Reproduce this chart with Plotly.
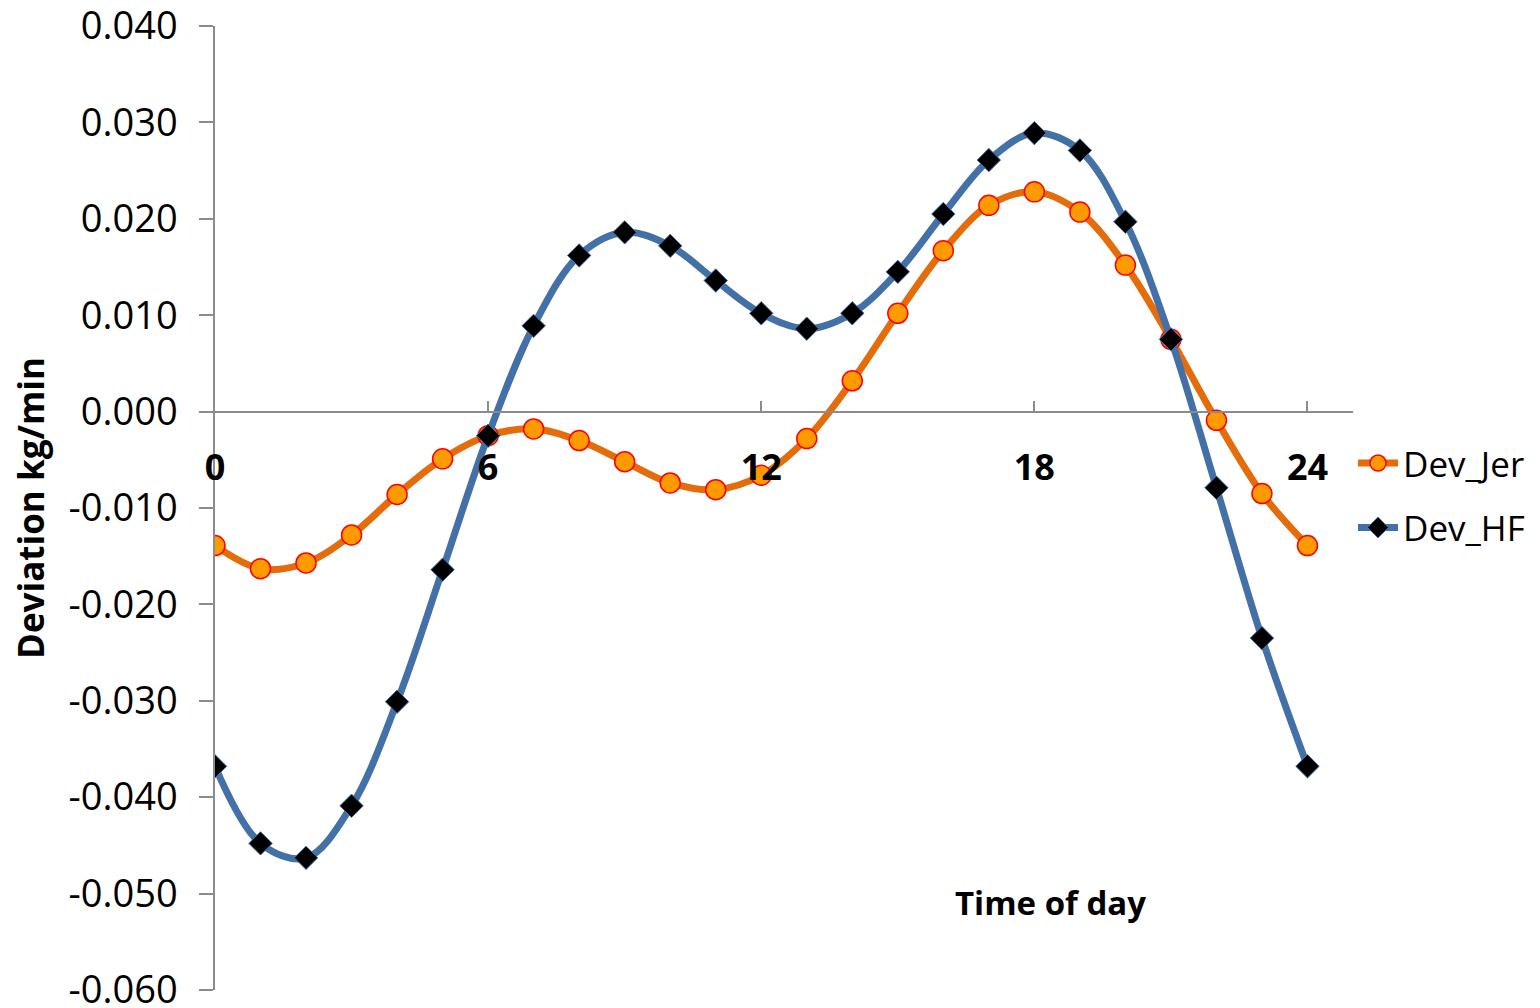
import plotly.graph_objects as go

# Hourly deviation of mass flow (kg/min) over a day
hours = list(range(25))

dev_jer = [-0.0139, -0.0163, -0.0157, -0.0128, -0.0086, -0.0049, -0.0025, -0.0018,
           -0.0030, -0.0052, -0.0074, -0.0081, -0.0066, -0.0028, 0.0032, 0.0102,
           0.0167, 0.0214, 0.0228, 0.0207, 0.0152, 0.0075, -0.0009, -0.0085, -0.0139]

dev_hf = [-0.0368, -0.0448, -0.0463, -0.0409, -0.0301, -0.0164, -0.0025, 0.0089,
          0.0162, 0.0186, 0.0172, 0.0136, 0.0102, 0.0086, 0.0102, 0.0145,
          0.0205, 0.0261, 0.0289, 0.0271, 0.0197, 0.0075, -0.0079, -0.0235, -0.0368]

x_ticks = [0, 6, 12, 18, 24]
y_ticks = [0.04, 0.03, 0.02, 0.01, 0.0, -0.01, -0.02, -0.03, -0.04, -0.05, -0.06]
y_tick_labels = ["0.040", "0.030", "0.020", "0.010", "0.000", "-0.010", "-0.020",
                 "-0.030", "-0.040", "-0.050", "-0.060"]

FONT = "Open Sans"
AXIS_GREY = "#8c8c8c"

L, R, T, B = 215, 187, 26, 18
W, H = 1540, 1008
plot_w = W - L - R
plot_h = H - T - B

fig = go.Figure()

fig.add_trace(go.Scatter(
    x=hours, y=dev_jer, name="Dev_Jer", mode="lines+markers",
    line=dict(color="#E46C0A", width=7, shape="spline", smoothing=1.0),
    marker=dict(symbol="circle", size=20, color="#FF9A00",
                line=dict(color="#FF0000", width=1.5)),
    legendgroup="jer",
))

fig.add_trace(go.Scatter(
    x=hours, y=dev_hf, name="Dev_HF", mode="lines+markers",
    line=dict(color="#4470A8", width=7, shape="spline", smoothing=1.0),
    marker=dict(symbol="diamond", size=18, color="#000000",
                line=dict(color="#4470A8", width=1)),
    legendgroup="hf",
))

fig.update_layout(
    width=W, height=H,
    margin=dict(l=L, r=R, t=T, b=B, autoexpand=False),
    plot_bgcolor="white", paper_bgcolor="white",
    font=dict(family=FONT, color="black"),
    showlegend=True,
    legend=dict(
        x=1.0, xanchor="left", y=0.577, yanchor="top",
        font=dict(family=FONT, size=35, color="black"),
        traceorder="grouped", tracegroupgap=16,
        bgcolor="rgba(0,0,0,0)", itemwidth=40,
    ),
    xaxis=dict(
        range=[0, 25], tickvals=x_ticks, ticktext=[str(v) for v in x_ticks],
        anchor="free", position=0.6, automargin=False,
        showline=True, linecolor=AXIS_GREY, linewidth=1.5,
        ticks="inside", ticklen=10, tickcolor=AXIS_GREY, tickwidth=1.5,
        tickfont=dict(family=FONT, size=36, color="black", weight="bold"),
        ticklabelstandoff=24, ticklabeloverflow="allow",
        showgrid=False, zeroline=False,
    ),
    yaxis=dict(
        range=[-0.06001, 0.04001], tickvals=y_ticks, ticktext=y_tick_labels,
        automargin=False,
        showline=True, linecolor=AXIS_GREY, linewidth=1.5,
        ticks="outside", ticklen=14, tickcolor=AXIS_GREY, tickwidth=1.5,
        tickfont=dict(family=FONT, size=38, color="black"),
        ticklabelstandoff=14, ticklabeloverflow="allow",
        showgrid=False, zeroline=False,
    ),
    annotations=[
        dict(text="<b>Time of day</b>", xref="paper", yref="paper",
             x=(1050 - L) / plot_w, y=(H - B - 902) / plot_h,
             xanchor="center", yanchor="middle", showarrow=False,
             font=dict(family=FONT, size=33, color="black")),
        dict(text="<b>Deviation kg/min</b>", textangle=-90, xref="paper", yref="paper",
             x=(30 - L) / plot_w, y=(H - B - 508) / plot_h,
             xanchor="center", yanchor="middle", showarrow=False,
             font=dict(family=FONT, size=35, color="black")),
    ],
)

fig.write_html("out.html")
